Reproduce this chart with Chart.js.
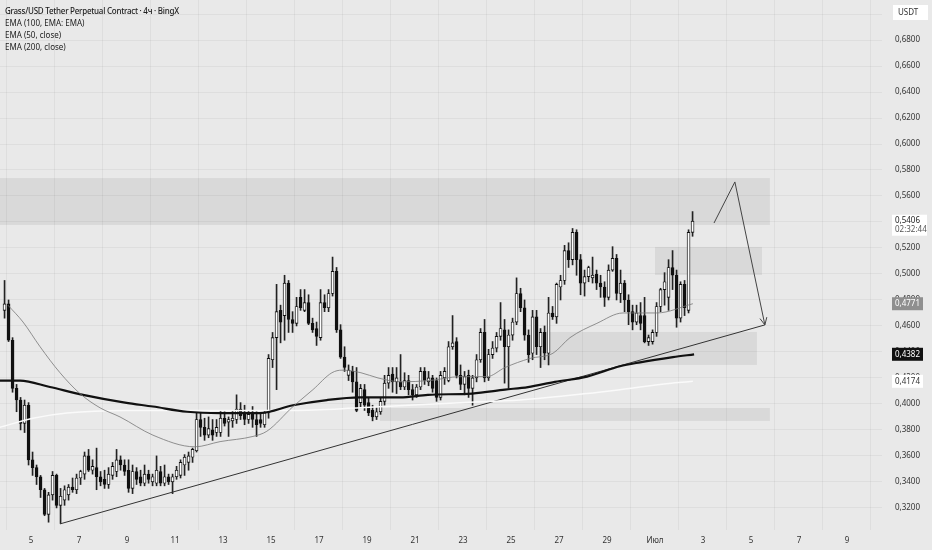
<!DOCTYPE html>
<html>
<head>
<meta charset="utf-8">
<script src="https://cdn.jsdelivr.net/npm/chart.js@4.4.0/dist/chart.umd.min.js"></script>
<style>
  body { margin: 0; background: #e9e9e9; }
  #wrap { position: relative; width: 932px; height: 550px; }
  #legend { position: absolute; left: 5px; top: 5px; font: 8px "Noto Sans", sans-serif; color: #222; line-height: 12px; }
  #legend .title { font-weight: 500; letter-spacing: -0.25px; }
</style>
</head>
<body>
<div id="wrap">
  <canvas id="chart" width="932" height="550"></canvas>
  <div id="legend">
    <div class="title">Grass/USD Tether Perpetual Contract · 4ч · BingX</div>
    <div>EMA (100, EMA: EMA)</div>
    <div>EMA (50, close)</div>
    <div>EMA (200, close)</div>
  </div>
</div>
<script>
// 4h candles, [open, high, low, close]
const ohlc = [
  [0.472,0.495,0.466,0.477],[0.477,0.480,0.448,0.449],[0.449,0.451,0.409,0.412],[0.412,0.415,0.394,0.403],
  [0.403,0.405,0.380,0.385],[0.385,0.403,0.378,0.399],[0.399,0.401,0.353,0.357],[0.357,0.363,0.345,0.351],
  [0.351,0.353,0.338,0.344],[0.344,0.345,0.328,0.334],[0.334,0.335,0.314,0.315],[0.315,0.332,0.309,0.330],
  [0.330,0.348,0.326,0.345],[0.345,0.346,0.320,0.322],[0.322,0.335,0.308,0.329],[0.326,0.337,0.322,0.334],
  [0.330,0.338,0.326,0.336],[0.336,0.343,0.332,0.334],[0.334,0.346,0.331,0.343],[0.343,0.349,0.338,0.348],
  [0.346,0.363,0.342,0.360],[0.360,0.365,0.348,0.349],[0.349,0.357,0.346,0.352],[0.351,0.366,0.334,0.344],
  [0.344,0.348,0.337,0.340],[0.342,0.349,0.335,0.338],[0.338,0.351,0.335,0.346],[0.345,0.355,0.342,0.352],
  [0.348,0.365,0.344,0.357],[0.357,0.360,0.349,0.353],[0.353,0.357,0.345,0.348],[0.349,0.357,0.332,0.335],
  [0.335,0.353,0.331,0.348],[0.348,0.351,0.338,0.342],[0.344,0.349,0.337,0.339],[0.339,0.353,0.337,0.346],
  [0.346,0.349,0.339,0.342],[0.340,0.346,0.337,0.344],[0.339,0.360,0.337,0.349],[0.348,0.352,0.337,0.339],
  [0.339,0.353,0.337,0.344],[0.344,0.346,0.338,0.340],[0.340,0.346,0.331,0.344],[0.344,0.352,0.342,0.349],
  [0.345,0.357,0.343,0.355],[0.353,0.361,0.345,0.359],[0.355,0.363,0.349,0.360],[0.359,0.366,0.355,0.365],
  [0.364,0.393,0.363,0.388],[0.388,0.393,0.375,0.382],[0.382,0.389,0.372,0.376],[0.376,0.390,0.374,0.381],
  [0.380,0.388,0.372,0.376],[0.378,0.388,0.375,0.382],[0.378,0.395,0.375,0.389],[0.389,0.394,0.383,0.385],
  [0.386,0.390,0.375,0.388],[0.387,0.395,0.382,0.389],[0.388,0.407,0.385,0.396],[0.396,0.401,0.388,0.391],
  [0.393,0.399,0.384,0.388],[0.388,0.395,0.385,0.392],[0.393,0.398,0.382,0.388],[0.388,0.394,0.375,0.384],
  [0.388,0.392,0.382,0.385],[0.384,0.395,0.382,0.393],[0.393,0.438,0.389,0.435],[0.434,0.455,0.428,0.451],
  [0.451,0.492,0.411,0.471],[0.472,0.476,0.447,0.463],[0.468,0.499,0.449,0.493],[0.493,0.495,0.455,0.465],
  [0.465,0.471,0.455,0.462],[0.462,0.482,0.460,0.475],[0.482,0.488,0.472,0.474],[0.472,0.488,0.471,0.478],
  [0.478,0.484,0.461,0.462],[0.462,0.466,0.455,0.457],[0.458,0.463,0.445,0.452],[0.451,0.488,0.449,0.478],
  [0.478,0.484,0.471,0.474],[0.474,0.488,0.471,0.485],[0.485,0.513,0.483,0.502],[0.502,0.505,0.455,0.457],
  [0.457,0.461,0.435,0.436],[0.436,0.444,0.425,0.428],[0.422,0.430,0.418,0.426],[0.425,0.429,0.409,0.417],
  [0.417,0.428,0.394,0.395],[0.401,0.415,0.397,0.412],[0.411,0.415,0.395,0.399],[0.401,0.405,0.391,0.393],
  [0.395,0.399,0.387,0.390],[0.390,0.397,0.388,0.394],[0.394,0.405,0.392,0.402],[0.402,0.422,0.399,0.416],
  [0.416,0.428,0.412,0.422],[0.423,0.428,0.409,0.417],[0.417,0.428,0.408,0.420],[0.417,0.438,0.411,0.413],
  [0.413,0.424,0.411,0.418],[0.418,0.422,0.407,0.411],[0.411,0.415,0.403,0.407],[0.407,0.415,0.405,0.413],
  [0.413,0.428,0.411,0.425],[0.425,0.428,0.415,0.418],[0.417,0.425,0.414,0.420],[0.420,0.422,0.409,0.412],
  [0.418,0.420,0.402,0.405],[0.405,0.425,0.403,0.422],[0.420,0.428,0.415,0.425],[0.418,0.448,0.417,0.444],
  [0.444,0.468,0.442,0.447],[0.448,0.451,0.420,0.422],[0.422,0.430,0.411,0.415],[0.415,0.425,0.407,0.421],
  [0.422,0.426,0.405,0.412],[0.412,0.422,0.399,0.420],[0.420,0.438,0.417,0.434],[0.434,0.458,0.432,0.455],
  [0.455,0.465,0.417,0.420],[0.420,0.442,0.418,0.438],[0.438,0.448,0.435,0.443],[0.443,0.455,0.440,0.452],
  [0.452,0.478,0.449,0.458],[0.457,0.465,0.416,0.444],[0.444,0.457,0.412,0.453],[0.453,0.466,0.449,0.463],
  [0.463,0.497,0.461,0.485],[0.485,0.489,0.471,0.474],[0.474,0.480,0.449,0.453],[0.453,0.457,0.432,0.438],
  [0.439,0.472,0.434,0.467],[0.467,0.472,0.438,0.444],[0.444,0.458,0.428,0.455],[0.455,0.460,0.434,0.439],
  [0.439,0.482,0.430,0.470],[0.470,0.475,0.465,0.467],[0.467,0.493,0.462,0.492],[0.490,0.499,0.480,0.495],
  [0.495,0.522,0.492,0.518],[0.518,0.524,0.505,0.511],[0.511,0.535,0.507,0.532],[0.532,0.534,0.499,0.511],
  [0.511,0.515,0.484,0.493],[0.493,0.503,0.483,0.498],[0.498,0.506,0.494,0.505],[0.497,0.513,0.493,0.499],
  [0.500,0.503,0.488,0.493],[0.493,0.499,0.482,0.490],[0.490,0.494,0.475,0.482],[0.482,0.507,0.480,0.503],
  [0.503,0.521,0.502,0.512],[0.512,0.515,0.480,0.485],[0.485,0.503,0.478,0.493],[0.493,0.495,0.471,0.480],
  [0.480,0.484,0.461,0.471],[0.471,0.476,0.457,0.463],[0.463,0.476,0.461,0.470],[0.468,0.478,0.457,0.462],
  [0.468,0.482,0.447,0.448],[0.448,0.453,0.445,0.451],[0.448,0.457,0.446,0.455],[0.455,0.478,0.452,0.475],
  [0.475,0.489,0.471,0.488],[0.488,0.501,0.476,0.494],[0.482,0.511,0.472,0.505],[0.505,0.518,0.488,0.499],
  [0.499,0.503,0.459,0.466],[0.466,0.494,0.463,0.492],[0.492,0.495,0.468,0.474],[0.472,0.534,0.470,0.532],
  [0.532,0.548,0.529,0.5406]
];
const firstCandleDay = 3.9;   // day of June for the first candle
const candlesPerDay = 6;      // 4h timeframe

// indicator lines, [day, price]
const ema50 = [[4.04,0.476],[4.67,0.463],[5.38,0.444],[6.21,0.424],[7.04,0.408],[7.88,0.397],[8.71,0.390],
  [10.08,0.376],[11.83,0.367],[12.88,0.371],[14.25,0.375],[14.83,0.379],[15.92,0.398],[16.75,0.411],
  [17.54,0.424],[17.96,0.426],[18.75,0.424],[19.46,0.420],[20.42,0.417],[21.6,0.418],[22.9,0.421],
  [24.0,0.421],[24.75,0.428],[25.79,0.435],[26.75,0.439],[27.46,0.451],[28.58,0.462],[29.67,0.470],
  [31.08,0.470],[32.58,0.4771]];
const ema100 = [[3.71,0.418],[4.54,0.418],[5.79,0.413],[7.17,0.407],[8.92,0.401],[10.08,0.398],[11.5,0.394],
  [12.88,0.393],[14.54,0.393],[15.92,0.399],[17.33,0.403],[18.71,0.405],[20.38,0.405],[21.54,0.407],
  [23.38,0.408],[24.75,0.411],[25.71,0.413],[26.83,0.417],[28.17,0.421],[29.54,0.429],[30.38,0.432],
  [31.75,0.436],[32.63,0.4382]];
const ema200 = [[3.71,0.382],[5.08,0.389],[6.5,0.393],[8.92,0.395],[12.04,0.395],[15.92,0.395],[18.71,0.397],
  [22.88,0.401],[25.38,0.403],[28.17,0.408],[29.54,0.411],[31.21,0.415],[32.58,0.4174]];

// drawings
const trendLine = [[6.21,0.3077],[35.58,0.4608]];
const arrowPath = [[33.46,0.5392],[34.33,0.5708],[35.58,0.4608]];
const zones = [          // [fromDay, toDay, upper, lower]
  [3.0, 35.79, 0.5738, 0.5377],
  [31.0, 35.46, 0.5208, 0.4992],
  [26.21, 35.25, 0.4554, 0.4300],
  [19.54, 35.79, 0.3969, 0.3869]
];

const xTickDays = [5,7,9,11,13,15,17,19,21,23,25,27,29,31,33,35,37,39];
const xTickLabels = ['5','7','9','11','13','15','17','19','21','23','25','27','29','Июл','3','5','7','9'];
const lastPrice = 0.5406;
const lastCountdown = '02:32:44';
const ema50Last = 0.4771, ema100Last = 0.4382, ema200Last = 0.4174;

const xMin = 3.71, xMax = 40.46, yMin = 0.303, yMax = 0.7108;

const fmt = v => v.toFixed(4).replace('.', ',');
const candleDays = ohlc.map((_, i) => firstCandleDay + i / candlesPerDay);
const toXY = arr => arr.map(p => ({x: p[0], y: p[1]}));
const FONT = '"Noto Sans", sans-serif';

const bgPlugin = {
  id: 'bg',
  beforeDraw(chart) {
    const ctx = chart.ctx;
    ctx.save();
    ctx.fillStyle = '#e9e9e9';
    ctx.fillRect(0, 0, chart.width, chart.height);
    ctx.restore();
  }
};

const zonePlugin = {
  id: 'zones',
  beforeDatasetsDraw(chart) {
    const {ctx, chartArea, scales: {x, y}} = chart;
    ctx.save();
    ctx.beginPath();
    ctx.rect(chartArea.left, chartArea.top, chartArea.width, chartArea.height);
    ctx.clip();
    ctx.fillStyle = 'rgba(0,0,0,0.065)';
    zones.forEach(z => {
      const x1 = x.getPixelForValue(z[0]), x2 = x.getPixelForValue(z[1]);
      const y1 = y.getPixelForValue(z[2]), y2 = y.getPixelForValue(z[3]);
      ctx.fillRect(x1, y1, x2 - x1, y2 - y1);
    });
    ctx.restore();
  }
};

const arrowPlugin = {
  id: 'arrowHead',
  afterDatasetsDraw(chart) {
    const idx = chart.data.datasets.findIndex(d => d.label === 'arrow');
    const pts = chart.getDatasetMeta(idx).data;
    const a = pts[pts.length - 2], b = pts[pts.length - 1];
    const ang = Math.atan2(b.y - a.y, b.x - a.x);
    const ctx = chart.ctx;
    ctx.save();
    ctx.strokeStyle = '#444';
    ctx.lineWidth = 1;
    ctx.beginPath();
    ctx.moveTo(b.x - 8 * Math.cos(ang - 0.45), b.y - 8 * Math.sin(ang - 0.45));
    ctx.lineTo(b.x, b.y);
    ctx.lineTo(b.x - 8 * Math.cos(ang + 0.45), b.y - 8 * Math.sin(ang + 0.45));
    ctx.stroke();
    ctx.restore();
  }
};

const tagPlugin = {
  id: 'priceTags',
  afterDraw(chart) {
    const {ctx, scales: {y}} = chart;
    const left = 892, w = 35;
    ctx.save();
    ctx.font = '8px ' + FONT;
    ctx.textBaseline = 'middle';

    // currency box
    ctx.fillStyle = '#fff';
    ctx.fillRect(left + 1, 5, w, 15);
    ctx.fillStyle = '#333';
    ctx.fillText('USDT', left + 6, 12.5);

    const tag = (v, bg, fg) => {
      const py = y.getPixelForValue(v);
      ctx.fillStyle = bg;
      ctx.fillRect(left, py - 6.5, w - 4, 13);
      ctx.fillStyle = fg;
      ctx.fillText(fmt(v), left + 3, py);
    };
    tag(ema50Last, '#8f8f8f', '#fff');
    tag(ema100Last, '#111', '#fff');
    tag(ema200Last, '#fff', '#333');

    // last price with countdown
    const py = y.getPixelForValue(lastPrice);
    ctx.fillStyle = '#fff';
    ctx.fillRect(left, py - 6.5, w, 21);
    ctx.fillStyle = '#222';
    ctx.fillText(fmt(lastPrice), left + 3, py);
    ctx.fillStyle = '#555';
    ctx.fillText(lastCountdown, left + 3, py + 9);
    ctx.restore();
  }
};

new Chart(document.getElementById('chart'), {
  type: 'bar',
  data: {
    datasets: [
      {
        label: 'ema50', type: 'line', data: toXY(ema50), order: 0,
        borderColor: 'rgba(120,120,120,0.8)', borderWidth: 1, pointRadius: 0,
        cubicInterpolationMode: 'monotone'
      },
      {
        label: 'ema100', type: 'line', data: toXY(ema100), order: 0,
        borderColor: '#111', borderWidth: 2.2, pointRadius: 0,
        cubicInterpolationMode: 'monotone'
      },
      {
        label: 'ema200', type: 'line', data: toXY(ema200), order: 0,
        borderColor: '#fafafa', borderWidth: 1.5, pointRadius: 0,
        cubicInterpolationMode: 'monotone'
      },
      {
        label: 'trend', type: 'line', data: toXY(trendLine), order: 0,
        borderColor: '#333', borderWidth: 1, pointRadius: 0
      },
      {
        label: 'arrow', type: 'line', data: toXY(arrowPath), order: 0,
        borderColor: '#444', borderWidth: 1, pointRadius: 0
      },
      {
        label: 'bodies', data: ohlc.map((c, i) => ({x: candleDays[i], y: [c[0], c[3]]})), order: 1,
        backgroundColor: ohlc.map(c => c[3] >= c[0] ? '#fff' : '#111'),
        borderColor: '#111', borderWidth: 0.9, borderSkipped: false,
        barThickness: 3, grouped: false
      },
      {
        label: 'wicks', data: ohlc.map((c, i) => ({x: candleDays[i], y: [c[2], c[1]]})), order: 2,
        backgroundColor: '#222', borderWidth: 0,
        barThickness: 1, grouped: false
      }
    ]
  },
  options: {
    responsive: false,
    animation: false,
    devicePixelRatio: 1,
    layout: {padding: 0},
    plugins: {legend: {display: false}, tooltip: {enabled: false}},
    scales: {
      x: {
        type: 'linear', min: xMin, max: xMax, offset: false,
        afterBuildTicks: s => { s.ticks = xTickDays.map(v => ({value: v})); },
        afterFit: s => { s.height = 20; s.paddingLeft = 0; s.paddingRight = 0; },
        grid: {color: 'rgba(0,0,0,0.045)', drawTicks: false},
        border: {display: false},
        ticks: {
          autoSkip: false, maxRotation: 0, padding: 6, color: '#333',
          font: {family: FONT, size: 8},
          callback: v => xTickLabels[xTickDays.indexOf(v)]
        }
      },
      y: {
        position: 'right', min: yMin, max: yMax,
        afterFit: s => { s.width = 50; s.paddingTop = 0; s.paddingBottom = 0; },
        grid: {color: 'rgba(0,0,0,0.045)', drawTicks: false},
        border: {display: false},
        ticks: {
          stepSize: 0.02, includeBounds: false, padding: 13, color: '#333',
          font: {family: FONT, size: 8},
          callback: v => fmt(v)
        }
      }
    }
  },
  plugins: [bgPlugin, zonePlugin, arrowPlugin, tagPlugin]
});
</script>
</body>
</html>
